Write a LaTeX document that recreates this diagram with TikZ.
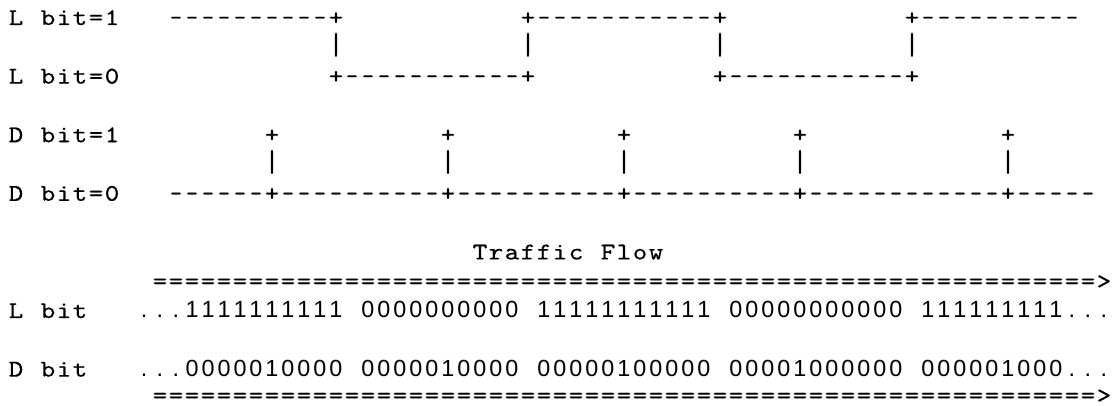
\documentclass[tikz,border=0pt]{standalone}
\usepackage{fontspec}
\usepackage{graphicx}
\newfontfamily\digitfont{Liberation Sans}
\newfontfamily\cellfont{lmmono10-regular.otf}[FakeBold=0.45]
\makeatletter
% fixed-pitch cells: every character sits centred in a box of equal width
\newlength\cellw
\setlength\cellw{12pt}
\def\hychar{-}
\def\barchar{|}
\newcommand\ttcell[1]{%
  \def\tmpc{#1}%
  \ifx\tmpc\hychar\scalebox{0.95}[1]{-}%
  \else\ifx\tmpc\barchar\scalebox{1.15}[1.3]{|}%
  \else\scalebox{1.15}[1]{#1}\fi\fi}
\newcommand\ttrow[1]{\@tfor\cc:=#1\do{\makebox[\cellw][c]{\expandafter\ttcell\expandafter{\cc}}}}
\newcommand\digrow[1]{\@tfor\cc:=#1\do{\makebox[\cellw][c]{\cc}}}
\makeatother
\tikzset{
  x=0.75pt, y=-0.75pt,
  txt/.style={anchor=base west, inner sep=0pt, outer sep=0pt,
              font=\fontsize{18pt}{20pt}\selectfont\cellfont},
  dig/.style={anchor=base west, inner sep=0pt, outer sep=0pt,
              font=\fontsize{17.5pt}{20pt}\selectfont\digitfont},
}
% column / row grid of the character layout
\newcommand\gx[1]{8+16*#1}
\newcommand\gy[1]{25+29.3*#1}
\begin{document}
\begin{tikzpicture}
\useasboundingbox (0,0) rectangle (1115,406);

% L bit waveform
\node[txt] (l1lab) at ({\gx{0}},{\gy{0}}) {\ttrow{L~bit=1}};
\node[txt] (l1a) at ({\gx{10}},{\gy{0}}) {\ttrow{----------+}};
\node[txt] (l1b) at ({\gx{32}},{\gy{0}}) {\ttrow{+-----------+}};
\node[txt] (l1c) at ({\gx{56}},{\gy{0}}) {\ttrow{+----------}};
\foreach \c/\n in {20/a,32/b,44/c,56/d}
  \node[txt] (lv\n) at ({\gx{\c}},{\gy{1}}) {\ttrow{|}};
\node[txt] (l0lab) at ({\gx{0}},{\gy{2}}) {\ttrow{L~bit=0}};
\node[txt] (l0a) at ({\gx{20}},{\gy{2}}) {\ttrow{+-----------+}};
\node[txt] (l0b) at ({\gx{44}},{\gy{2}}) {\ttrow{+-----------+}};

% D bit pulses
\node[txt] (d1lab) at ({\gx{0}},{\gy{4}}) {\ttrow{D~bit=1}};
\foreach \c/\n in {16/a,27/b,38/c,49/d,62/e}{
  \node[txt] (dp\n) at ({\gx{\c}},{\gy{4}}) {\ttrow{+}};
  \node[txt] (dv\n) at ({\gx{\c}},{\gy{5}}) {\ttrow{|}};
}
\node[txt] (d0lab) at ({\gx{0}},{\gy{6}}) {\ttrow{D~bit=0}};
\node[txt] (d0a) at ({\gx{10}},{\gy{6}})
  {\ttrow{------+----------+----------+----------+------------+-----}};

% traffic flow with the bit streams
\node[txt] (flow) at ({\gx{29}},{\gy{8}}) {\ttrow{Traffic~Flow}};
\node[txt] (arrtop) at ({\gx{9}},{\gy{9}})
  {\ttrow{===========================================================>}};
\node[txt] (lstr) at ({\gx{0}},{\gy{10}}) {\ttrow{L~bit}};
\node[dig] (lbits) at ({\gx{8}},{\gy{10}})
  {\digrow{...1111111111~0000000000~11111111111~00000000000~111111111...}};
\node[txt] (dstr) at ({\gx{0}},{\gy{12}}) {\ttrow{D~bit}};
\node[dig] (dbits) at ({\gx{8}},{\gy{12}})
  {\digrow{...0000010000~0000010000~00000100000~00001000000~000001000...}};
\node[txt, text depth=0pt] (arrbot) at ({\gx{9}},{\gy{13}-3})
  {\ttrow{===========================================================>}};
\end{tikzpicture}
\end{document}
